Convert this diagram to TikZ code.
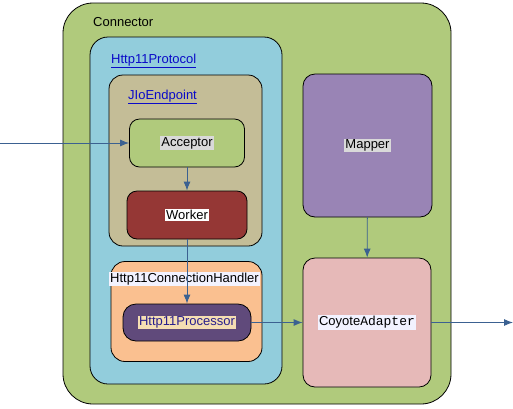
\documentclass[tikz,border=0pt]{standalone}
\usepackage{fontspec}
\setmainfont{Liberation Sans}
\newfontfamily\monofont{Liberation Mono}
\usetikzlibrary{arrows.meta}

\definecolor{conngreen}{RGB}{176,202,124}
\definecolor{protoblue}{RGB}{146,205,220}
\definecolor{endtan}{RGB}{196,189,151}
\definecolor{workred}{RGB}{149,55,53}
\definecolor{handorange}{RGB}{250,192,144}
\definecolor{procpurple}{RGB}{96,74,123}
\definecolor{mapviolet}{RGB}{153,132,181}
\definecolor{adappink}{RGB}{230,185,184}
\definecolor{arrowblue}{RGB}{59,97,145}
\definecolor{linkblue}{RGB}{10,10,200}
\definecolor{proctext}{RGB}{40,30,140}
\definecolor{procback}{RGB}{245,222,179}

\begin{document}
\begin{tikzpicture}
    [
        x=1pt, y=-1pt,
        font=\fontsize{13}{15}\selectfont,
        box/.style={rectangle, draw=black, line width=0.8pt, inner sep=0pt},
        tag/.style={inner sep=1pt, anchor=west},
        link/.style={tag, text=linkblue},
        flow/.style={draw=arrowblue, line width=0.9pt, -{Latex[length=9pt,width=7pt]}}
    ]

    \useasboundingbox (0,0) rectangle (513,408);

    % containers
    \node [box, fill=conngreen, rounded corners=30pt, minimum width=388pt, minimum height=401pt] (connector) at (257,203.5) {};
    \node [box, fill=protoblue, rounded corners=18pt, minimum width=192pt, minimum height=347pt] (protocol) at (186,210.5) {};
    \node [box, fill=endtan, rounded corners=14pt, minimum width=153pt, minimum height=171pt] (endpoint) at (185.5,160.5) {};
    \node [box, fill=handorange, rounded corners=14pt, minimum width=151pt, minimum height=100pt] (handler) at (186.5,311.5) {};

    % inner boxes
    \node [box, fill=conngreen, rounded corners=10pt, minimum width=115pt, minimum height=48pt] (acceptor) at (187,143) {};
    \node [box, fill=workred, rounded corners=10pt, minimum width=120pt, minimum height=48pt] (worker) at (187,215) {};
    \node [box, fill=procpurple, rounded corners=13pt, minimum width=128pt, minimum height=37pt] (processor) at (187,322.5) {};
    \node [box, fill=mapviolet, rounded corners=12pt, minimum width=129pt, minimum height=143pt] (mapper) at (367.5,145.5) {};
    \node [box, fill=adappink, rounded corners=12pt, minimum width=128pt, minimum height=129pt] (adapter) at (367,322.5) {};

    % labels
    \node [tag] (connector label) at (92,22) {Connector};
    \node [link] (protocol label) at (110,61) {\underline{Http11Protocol}};
    \node [link] (endpoint label) at (127,97) {\underline{JIoEndpoint}};
    \node [inner sep=1pt, fill=blue!5] (handler label) at (184.5,279) {Http11ConnectionHandler};
    \node [inner sep=1pt, fill=black!15] at (acceptor) {Acceptor};
    \node [inner sep=1pt, fill=white] at (worker) {Worker};
    \node [inner sep=1pt, fill=procback, text=proctext] at (processor) {Http11Processor};
    \node [inner sep=1pt, fill=black!15] at (mapper) {Mapper};
    \node [inner sep=1pt, fill=blue!5] at (adapter) {Coyote{\monofont Adapter}};

    % connectors
    \coordinate (request) at (0,143);
    \coordinate (response) at (513,322.5);
    \draw [flow] (request) -- (acceptor.west);
    \draw [flow] (acceptor) -- (worker);
    \draw [flow] (worker.south) -- (processor.north);
    \draw [flow] (processor) -- (adapter);
    \draw [flow] (mapper) -- (adapter);
    \draw [flow] (adapter.east) -- (response);
\end{tikzpicture}
\end{document}
